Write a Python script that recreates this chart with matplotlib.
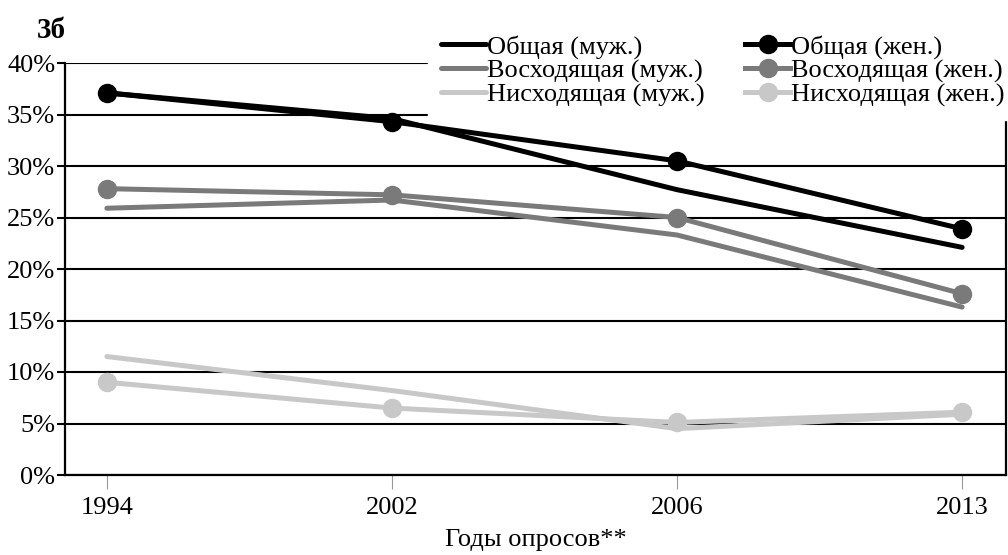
import matplotlib
matplotlib.use('Agg')
import matplotlib.pyplot as plt
import numpy as np

years = ['1994', '2002', '2006', '2013']
obsh_m = [37.1, 34.6, 27.7, 22.1]
obsh_f = [37.1, 34.3, 30.5, 23.9]
vosh_m = [25.9, 26.7, 23.3, 16.3]
vosh_f = [27.8, 27.2, 25.0, 17.6]
nish_m = [11.5, 8.2, 4.5, 5.9]
nish_f = [9.0, 6.5, 5.1, 6.1]

plt.rcParams['font.family'] = ['Liberation Serif', 'DejaVu Serif']

fig = plt.figure(figsize=(10.08, 5.55), dpi=100)
ax = fig.add_axes([65/1008, 1-475/555, (1006-65)/1008, (475-63)/555])

x = np.arange(len(years))
cols = ['#000000', '#7a7a7a', '#c8c8c8']
hm = []
hf = []
for ser, c, lab in zip([obsh_m, vosh_m, nish_m], cols,
                       ['Общая (муж.)', 'Восходящая (муж.)', 'Нисходящая (муж.)']):
    l, = ax.plot(x, ser, color=c, lw=3.6, solid_capstyle='round', zorder=3, label=lab)
    hm.append(l)
for ser, c, lab in zip([obsh_f, vosh_f, nish_f], cols,
                       ['Общая (жен.)', 'Восходящая (жен.)', 'Нисходящая (жен.)']):
    l, = ax.plot(x, ser, color=c, lw=3.6, marker='o', ms=13, zorder=4, label=lab)
    hf.append(l)

ax.set_xlim(-0.147, 3.154)
ax.set_ylim(0, 40)
ax.set_yticks(range(0, 41, 5))
ax.set_yticklabels(['%d%%' % v for v in range(0, 41, 5)], fontsize=19)
ax.set_xticks(x)
ax.set_xticklabels(years, fontsize=19)
ax.grid(axis='y', color='black', lw=1.5, zorder=1)
ax.tick_params(axis='y', length=6, width=1.5, pad=1)
ax.tick_params(axis='x', length=10, width=0.8, color='#999999', pad=6)
for s in ['left', 'bottom', 'right']:
    ax.spines[s].set_linewidth(1.6)
ax.spines['top'].set_visible(False)

ax.set_xlabel('Годы опросов**', fontsize=19, labelpad=7)

leg = ax.legend(handles=hm + hf, ncol=2, loc='upper left',
                bbox_to_anchor=(428/1008, 1-22/555), bbox_transform=fig.transFigure,
                fontsize=19, frameon=True, fancybox=False, framealpha=1,
                edgecolor='white', handlelength=1.68, handletextpad=0.05,
                columnspacing=1.55, labelspacing=0.0, borderpad=0.5, borderaxespad=0)
leg.set_zorder(5)

fig.text(37/1008, 1-38/555, '3б', fontsize=21, fontweight='bold')

fig.savefig('out.png', dpi=100)
